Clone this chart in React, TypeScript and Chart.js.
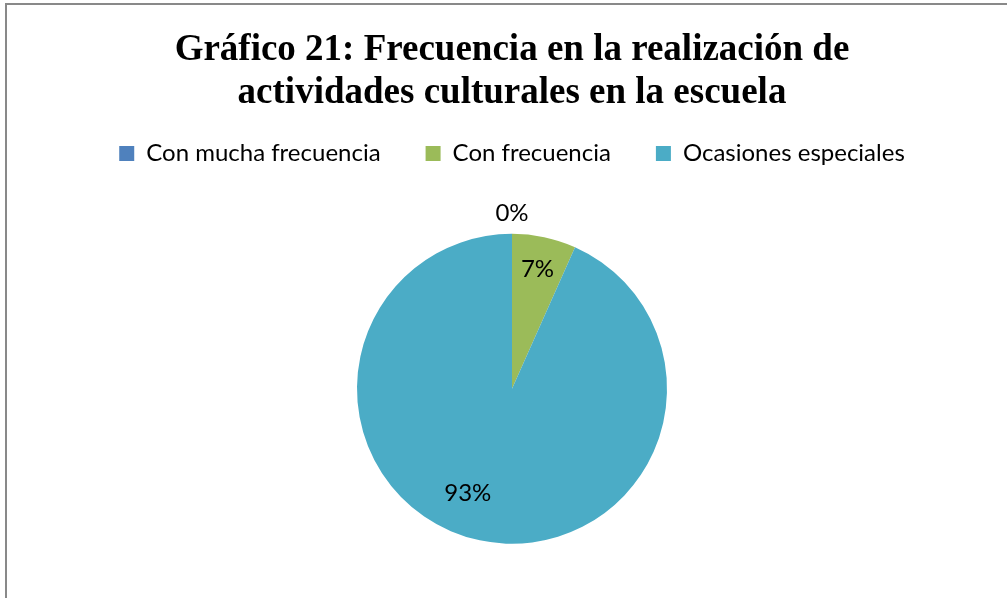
import React, { useEffect, useRef } from "react";
import { Chart, registerables } from "chart.js";

Chart.register(...registerables);

const TITLE_LINES = [
  "Gráfico 21: Frecuencia en la realización de",
  "actividades culturales en la escuela",
];
const CATEGORIES = ["Con mucha frecuencia", "Con frecuencia", "Ocasiones especiales"];
const VALUES = [0, 1, 14];
const COLORS = ["#4F81BD", "#9BBB59", "#4BACC6"];

const LABEL_FONT = "Lato";

const pctLabels = {
  id: "pctLabels",
  afterDatasetsDraw(chart: any, _args: any, opts: any) {
    const meta = chart.getDatasetMeta(0);
    const data = chart.data.datasets[0].data as number[];
    const total = data.reduce((a, b) => a + b, 0);
    const ctx = chart.ctx;
    ctx.save();
    ctx.font = opts.font;
    ctx.fillStyle = opts.color;
    ctx.textAlign = "center";
    ctx.textBaseline = "middle";
    meta.data.forEach((arc: any, i: number) => {
      const p = arc.getProps(["x", "y", "startAngle", "endAngle", "outerRadius"], true);
      const mid = (p.startAngle + p.endAngle) / 2 + ((opts.angleShift[i] || 0) * Math.PI) / 180;
      const r = p.outerRadius * opts.radial[i];
      const txt = Math.round((data[i] / total) * 100) + "%";
      ctx.fillText(txt, p.x + Math.cos(mid) * r, p.y + Math.sin(mid) * r);
    });
    ctx.restore();
  },
};

export default function App() {
  const ref = useRef<HTMLCanvasElement>(null);
  useEffect(() => {
    if (!ref.current) return;
    const chart = new Chart(ref.current, {
      type: "pie",
      data: {
        labels: CATEGORIES,
        datasets: [
          {
            data: VALUES,
            backgroundColor: COLORS,
            borderWidth: 0,
            radius: 155,
          } as any,
        ],
      },
      options: {
        responsive: false,
        animation: false,
        devicePixelRatio: 1,
        layout: { padding: { left: 17, right: 0, top: 0, bottom: 0 } },
        plugins: {
          title: {
            display: true,
            text: TITLE_LINES,
            color: "#000",
            font: { family: "Liberation Serif", size: 37, weight: "bold", lineHeight: 43 / 37 },
            padding: { top: 29, bottom: -18.5 },
          },
          legend: {
            display: true,
            position: "top",
            labels: {
              color: "#000",
              font: { family: LABEL_FONT, size: 24 },
              boxWidth: 15,
              boxHeight: 15,
              padding: 45,
            },
          },
          tooltip: { enabled: false },
          pctLabels: {
            font: `24px ${LABEL_FONT}`,
            color: "#000",
            radial: [1.135, 0.79, 0.73],
            angleShift: [0, 0, 11],
          },
        } as any,
      },
      plugins: [pctLabels],
    });
    return () => chart.destroy();
  }, []);

  return (
    <div
      style={{
        position: "fixed",
        left: 0,
        top: 0,
        width: 1007,
        height: 598,
        overflow: "hidden",
        background: "#fff",
      }}
    >
      <div
        style={{
          position: "absolute",
          left: 5,
          top: 3,
          width: 1020,
          height: 620,
          borderLeft: "2px solid #898989",
          borderTop: "2px solid #898989",
          boxSizing: "border-box",
        }}
      />
      <canvas
        ref={ref}
        width={1007}
        height={602}
        style={{ position: "absolute", left: 0, top: 0, width: 1007, height: 602 }}
      />
    </div>
  );
}
